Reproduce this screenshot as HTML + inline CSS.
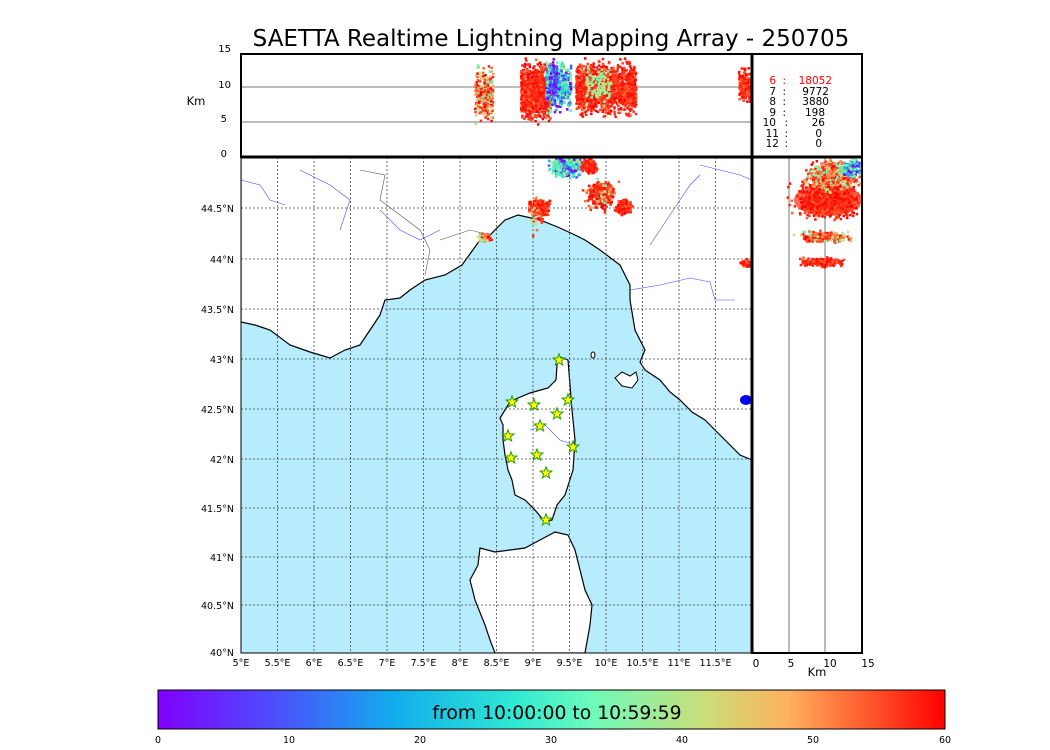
<!DOCTYPE html>
<html><head><meta charset="utf-8"><style>
html,body{margin:0;padding:0;background:#fff;}
svg{display:block;font-family:"DejaVu Sans","Liberation Sans",sans-serif;}
</style></head><body>
<svg id="s" width="1050" height="750" viewBox="0 0 1050 750" xmlns="http://www.w3.org/2000/svg">
<defs>
<linearGradient id="cb" x1="0" x2="1" y1="0" y2="0">
<stop offset="0" stop-color="#8000ff"/><stop offset="0.15" stop-color="#4c4ffc"/>
<stop offset="0.3" stop-color="#11aded"/><stop offset="0.45" stop-color="#2ee8d4"/>
<stop offset="0.55" stop-color="#6dfbbb"/><stop offset="0.7" stop-color="#cddc76"/>
<stop offset="0.8" stop-color="#ffb15e"/><stop offset="0.9" stop-color="#ff5a2d"/>
<stop offset="1" stop-color="#ff0000"/></linearGradient>
<clipPath id="cm"><rect x="241" y="157" width="511" height="496"/></clipPath>
<clipPath id="ct"><rect x="241" y="54" width="511" height="103"/></clipPath>
<clipPath id="cr"><rect x="752" y="157" width="110" height="496"/></clipPath>
</defs>
<text x="551" y="46" font-size="23" text-anchor="middle">SAETTA Realtime Lightning Mapping Array - 250705</text>
<g clip-path="url(#cm)">
<rect x="241" y="157" width="511" height="496" fill="#b6ecfc"/>
<polygon fill="#fff" stroke="#000" stroke-width="1.2" points="241,157 752,157 752,460 740,455 725,440 705,420 692,412 680,400 670,392 660,380 645,370 640,362 645,350 635,330 630,300 630,285 620,265 600,250 585,240 575,235 560,228 540,220 518,215 505,220 490,235 480,240 462,265 445,275 425,280 410,290 400,298 385,300 380,315 370,330 360,345 345,350 330,358 310,352 290,345 270,330 255,325 241,322"/>
<polygon fill="#fff" stroke="#000" stroke-width="1.2" points="560,357 568,360 570,385 572,410 575,440 573,470 565,495 557,505 552,520 545,522 535,510 525,500 515,495 512,480 508,470 505,455 503,440 503,425 500,418 505,410 510,402 518,398 530,393 548,388 556,380 557,365"/>
<polygon fill="#fff" stroke="#000" stroke-width="1.2" points="540,540 555,532 568,535 575,550 580,570 585,590 592,605 590,625 585,653 495,653 490,640 485,625 475,600 470,580 478,565 480,548 495,552 510,550 525,548"/>
<path d="M615,378 L622,372 L630,376 L636,372 L638,380 L632,388 L622,386 Z" fill="#fff" stroke="#000"/>
<ellipse cx="593" cy="355" rx="2" ry="3" fill="#fff" stroke="#000"/>
<ellipse cx="746" cy="400" rx="6" ry="5" fill="#00f"/>
<g fill="none" stroke="#00f" stroke-width="0.6" opacity="0.7">
<path d="M650,245 L660,230 L670,215 L680,200 L690,185 L700,175"/>
<path d="M630,290 L660,285 L690,278 L710,282 L715,300 L735,300"/>
<path d="M241,180 L260,185 L270,200 L285,205"/>
<path d="M300,170 L330,185 L350,200 L340,230"/>
<path d="M380,210 L400,230 L420,240 L440,230"/>
<path d="M530,430 L545,425 L560,440 L575,445"/>
<path d="M700,165 L720,170 L740,175 L752,180"/>
</g>
<g fill="none" stroke="#555" stroke-width="0.6"><path d="M360,170 L385,175 L380,200 L400,215 L420,230 L430,250 L425,275"/><path d="M440,240 L470,230 L490,235"/></g>
<g stroke="#444" stroke-width="0.8" stroke-dasharray="2,2">
<line x1="277.5" y1="157" x2="277.5" y2="653"/><line x1="314" y1="157" x2="314" y2="653"/><line x1="350.5" y1="157" x2="350.5" y2="653"/><line x1="387" y1="157" x2="387" y2="653"/><line x1="423.5" y1="157" x2="423.5" y2="653"/><line x1="460" y1="157" x2="460" y2="653"/><line x1="496.5" y1="157" x2="496.5" y2="653"/><line x1="533" y1="157" x2="533" y2="653"/><line x1="569.5" y1="157" x2="569.5" y2="653"/><line x1="606" y1="157" x2="606" y2="653"/><line x1="642.5" y1="157" x2="642.5" y2="653"/><line x1="679" y1="157" x2="679" y2="653"/><line x1="715.5" y1="157" x2="715.5" y2="653"/>
<line x1="241" y1="208" x2="752" y2="208"/><line x1="241" y1="259" x2="752" y2="259"/><line x1="241" y1="309" x2="752" y2="309"/><line x1="241" y1="359" x2="752" y2="359"/><line x1="241" y1="409" x2="752" y2="409"/><line x1="241" y1="459" x2="752" y2="459"/><line x1="241" y1="508" x2="752" y2="508"/><line x1="241" y1="557" x2="752" y2="557"/><line x1="241" y1="605" x2="752" y2="605"/>
</g>
<g id="mapdots">
<ellipse cx="570" cy="163" rx="18" ry="7" fill="#5fe8c0" opacity="0.6"/>
<ellipse cx="600" cy="193" rx="11" ry="10" fill="#ff2a10" opacity="0.7"/>
<ellipse cx="538" cy="208" rx="9" ry="7" fill="#ff2a10" opacity="0.7"/>
</g>
</g>
<g id="stars" fill="#ffff00" stroke="#2a9a00" stroke-width="1"></g>
<rect x="241" y="157" width="511" height="496" fill="none" stroke="#000" stroke-width="1"/>
<g clip-path="url(#ct)">
<line x1="241" y1="87" x2="752" y2="87" stroke="#777" stroke-width="1"/>
<line x1="241" y1="122" x2="752" y2="122" stroke="#777" stroke-width="1"/>
<g id="topdots"></g>
</g>
<rect x="241" y="54" width="511" height="103" fill="none" stroke="#000" stroke-width="2"/>
<g clip-path="url(#cr)">
<line x1="789" y1="157" x2="789" y2="653" stroke="#777"/>
<line x1="825" y1="157" x2="825" y2="653" stroke="#777"/>
<g id="rdots">
<ellipse cx="828" cy="200" rx="34" ry="16" fill="#ff2a10" opacity="0.7"/>
</g>
</g>
<line x1="752" y1="54" x2="752" y2="653" stroke="#000" stroke-width="3"/>
<line x1="241" y1="157" x2="862" y2="157" stroke="#000" stroke-width="3"/>
<rect x="752" y="54" width="110" height="599" fill="none" stroke="#000" stroke-width="2"/>
<g font-size="10.5" text-anchor="end">
<text x="776" y="84" fill="#f00">6</text><text x="776" y="95">7</text><text x="776" y="105">8</text><text x="776" y="116">9</text><text x="776" y="126">10</text><text x="779" y="137">11</text><text x="779" y="147">12</text>
<text x="786" y="84" fill="#f00">:</text><text x="786" y="95">:</text><text x="786" y="105">:</text><text x="786" y="116">:</text><text x="788" y="126">:</text><text x="788" y="137">:</text><text x="788" y="147">:</text>
<text x="832" y="84" fill="#f00">18052</text><text x="829" y="95">9772</text><text x="829" y="105">3880</text><text x="825" y="116">198</text><text x="825" y="126">26</text><text x="822" y="137">0</text><text x="822" y="147">0</text>
</g>
<g font-size="10" text-anchor="end">
<text x="231" y="52">15</text><text x="231" y="88">10</text><text x="227" y="122">5</text><text x="227" y="157">0</text>
</g>
<text x="196" y="105" font-size="11.5" text-anchor="middle">Km</text>
<g font-size="9.5" text-anchor="end">
<text x="234" y="212">44.5°N</text><text x="234" y="263">44°N</text><text x="234" y="313">43.5°N</text><text x="234" y="363">43°N</text><text x="234" y="413">42.5°N</text><text x="234" y="463">42°N</text><text x="234" y="512">41.5°N</text><text x="234" y="561">41°N</text><text x="234" y="609">40.5°N</text><text x="234" y="656">40°N</text>
</g>
<g font-size="9.5" text-anchor="middle">
<text x="241" y="666">5°E</text><text x="277.5" y="666">5.5°E</text><text x="314" y="666">6°E</text><text x="350.5" y="666">6.5°E</text><text x="387" y="666">7°E</text><text x="423.5" y="666">7.5°E</text><text x="460" y="666">8°E</text><text x="496.5" y="666">8.5°E</text><text x="533" y="666">9°E</text><text x="569.5" y="666">9.5°E</text><text x="606" y="666">10°E</text><text x="642.5" y="666">10.5°E</text><text x="679" y="666">11°E</text><text x="715.5" y="666">11.5°E</text>
</g>
<g font-size="10.5" text-anchor="middle">
<text x="756" y="667">0</text><text x="791" y="667">5</text><text x="830" y="667">10</text><text x="868" y="667">15</text>
</g>
<text x="817" y="676" font-size="11.5" text-anchor="middle">Km</text>
<rect x="158" y="690" width="787" height="39" fill="url(#cb)" stroke="#000" stroke-width="1"/>
<text x="557" y="719" font-size="18.8" text-anchor="middle">from 10:00:00 to 10:59:59</text>
<g font-size="9.5" text-anchor="middle">
<text x="158" y="743">0</text><text x="289" y="743">10</text><text x="420" y="743">20</text><text x="551" y="743">30</text><text x="682" y="743">40</text><text x="813" y="743">50</text><text x="945" y="743">60</text>
</g>
</svg>
<script>
(function(){
var NS="http://www.w3.org/2000/svg";
var seed=7;function r(){seed=(seed*16807)%2147483647;return seed/2147483647;}
function g(){return (r()+r()+r()-1.5)/1.5;}
var mix=["#ff0000","#ff2a10","#ff4020","#ff6a30","#ffa060","#c8e080","#80f0b0"];
var red=["#ff0000","#ff2010","#ff3018","#ff4020","#ff6030","#ff1000"],cool=["#8000ff","#4060ff","#20b0f0","#30e0d0","#70f0b0","#a0f090","#50f0c0"];
function blob(id,cx,cy,rx,ry,n,pal,sz){var el=document.getElementById(id);sz=sz||2.5;
for(var i=0;i<n;i++){var c=document.createElementNS(NS,"rect");
c.setAttribute("x",(cx+g()*rx).toFixed(1));c.setAttribute("y",(cy+g()*ry).toFixed(1));
c.setAttribute("width",sz);c.setAttribute("height",sz);
c.setAttribute("fill",pal[Math.floor(r()*pal.length)]);el.appendChild(c);}}
function box(id,x0,x1,y0,y1,n,pal){var el=document.getElementById(id);
for(var i=0;i<n;i++){var c=document.createElementNS(NS,"rect");
var y=y0+(y1-y0)*(0.5+0.5*g()*1.0);
c.setAttribute("x",(x0+(x1-x0)*r()).toFixed(1));c.setAttribute("y",y.toFixed(1));
c.setAttribute("width",2.5);c.setAttribute("height",2.5);
c.setAttribute("fill",pal[Math.floor(r()*pal.length)]);el.appendChild(c);}}
blob("mapdots",565,166,20,12,400,cool);blob("mapdots",588,165,10,10,150,red);
blob("mapdots",600,193,15,14,500,red);blob("mapdots",600,195,22,22,80,mix);
blob("mapdots",623,206,10,9,250,red);blob("mapdots",538,207,13,10,350,red);blob("mapdots",535,215,12,25,50,mix);
blob("mapdots",484,236,8,6,80,mix);blob("mapdots",745,262,8,5,60,red);
box("topdots",520,550,54,126,900,red);box("topdots",545,570,54,115,500,cool);box("topdots",548,556,54,110,60,["#8000ff","#4060ff"]);
box("topdots",575,600,54,120,700,red);box("topdots",600,635,54,122,900,red);box("topdots",585,610,60,110,120,["#a0f090","#80f0b0","#c8e080"]);
box("topdots",474,492,56,130,260,mix);box("topdots",738,752,64,108,150,red);
blob("rdots",826,200,42,22,1100,red);blob("rdots",832,175,34,20,600,mix);blob("rdots",850,168,16,12,120,cool);
blob("rdots",822,236,34,7,320,mix);blob("rdots",822,261,28,6,240,red);
var st=document.getElementById("stars");
[[559,360],[512,402],[534,405],[568,400],[557,414],[540,426],[508,436],[573,447],[537,455],[511,458],[546,473],[546,520]].forEach(function(p){
var pts=[];for(var k=0;k<10;k++){var a=-Math.PI/2+k*Math.PI/5,R=k%2?2.6:6.2;pts.push((p[0]+R*Math.cos(a)).toFixed(1)+","+(p[1]+R*Math.sin(a)).toFixed(1));}
var pl=document.createElementNS(NS,"polygon");pl.setAttribute("points",pts.join(" "));st.appendChild(pl);});
})();
</script>
</body></html>
